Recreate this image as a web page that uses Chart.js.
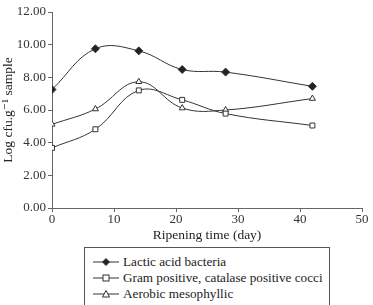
<!DOCTYPE html>
<html>
<head>
<meta charset="utf-8">
<script src="https://cdn.jsdelivr.net/npm/chart.js@4.4.0/dist/chart.umd.min.js"></script>
<style>
  body { margin: 0; background: #fff; font-family: 'Times New Roman', 'Liberation Serif', 'DejaVu Serif', serif; }
  #wrap { position: relative; width: 373px; height: 305px; overflow: hidden; }
  #chartBox { position: absolute; left: 0; top: 0; width: 373px; height: 244px; }
  #legend { position: absolute; left: 84px; top: 247px; width: 246px; height: 70px; border: 1px solid #555; box-sizing: border-box; padding-top: 6px; }
  .item { height: 16px; line-height: 16px; font-size: 13.2px; color: #222; white-space: nowrap; }
  .item svg { vertical-align: middle; margin: 0 4px 2px 8px; }
</style>
</head>
<body>
<div id="wrap">
  <div id="chartBox"><canvas id="myChart"></canvas></div>
  <div id="legend"></div>
</div>
<script>
'use strict';
// data
let days = [0, 7, 14, 21, 28, 42];
let lacticAcid = [7.25, 9.75, 9.62, 8.48, 8.32, 7.45];
let gramPositive = [3.68, 4.82, 7.2, 6.62, 5.78, 5.05];
let aerobicMeso = [5.12, 6.06, 7.73, 6.12, 6.0, 6.7];
let seriesNames = ['Lactic acid bacteria', 'Gram positive, catalase positive cocci', 'Aerobic mesophyllic'];
let yTicks = [0, 2, 4, 6, 8, 10, 12];
let xTicks = [0, 10, 20, 30, 40, 50];

let lineColor = '#333';
let serif = "'Times New Roman', 'Liberation Serif', 'DejaVu Serif', serif";

function toPoints(values) {
  let pts = [];
  for (let i = 0; i < days.length; i++) {
    pts.push({ x: days[i], y: values[i] });
  }
  return pts;
}

function makeSet(label, values, style, fill) {
  return {
    label: label,
    data: toPoints(values),
    borderColor: lineColor,
    borderWidth: 1,
    tension: 0.4,
    cubicInterpolationMode: 'default',
    pointStyle: style,
    pointRadius: style === 'rectRot' ? 4 : 3.5,
    pointBackgroundColor: fill,
    pointBorderColor: lineColor,
    pointBorderWidth: 1
  };
}

let chartObject = {
  type: 'line',
  data: {
    datasets: [
      makeSet(seriesNames[0], lacticAcid, 'rectRot', '#222'),
      makeSet(seriesNames[1], gramPositive, 'rect', '#fff'),
      makeSet(seriesNames[2], aerobicMeso, 'triangle', '#fff')
    ]
  },
  options: {
    responsive: true,
    maintainAspectRatio: false,
    animation: false,
    layout: { padding: { top: 12, right: 11, left: 0, bottom: 0 } },
    plugins: { legend: { display: false }, tooltip: { enabled: false } },
    scales: {
      x: {
        type: 'linear',
        min: 0,
        max: 50,
        afterBuildTicks: function (axis) { axis.ticks = xTicks.map(v => ({ value: v })); },
        afterFit: function (axis) { axis.height = 36; },
        border: { color: '#666', width: 1 },
        grid: { drawOnChartArea: false, drawTicks: true, tickLength: 4, color: '#666' },
        ticks: { color: '#333', padding: 0, maxRotation: 0, font: { family: serif, size: 13 } },
        title: { display: true, text: 'Ripening time (day)', color: '#222', padding: 0, font: { family: serif, size: 13.5 } }
      },
      y: {
        min: 0,
        max: 12,
        afterBuildTicks: function (axis) { axis.ticks = yTicks.map(v => ({ value: v })); },
        afterFit: function (axis) { axis.width = 52; },
        border: { color: '#666', width: 1 },
        grid: { drawOnChartArea: false, drawTicks: true, tickLength: 4, color: '#666' },
        ticks: { color: '#333', padding: 2, font: { family: serif, size: 13 }, callback: v => v.toFixed(2) },
        title: { display: true, text: 'Log cfu.g\u207B\u00B9 sample', color: '#222', padding: 0, font: { family: serif, size: 13.5 } }
      }
    }
  }
};

let ctx = document.getElementById('myChart').getContext('2d');
let myChart = new Chart(ctx, chartObject);

// legend with line + marker icons
let markers = [
  '<polygon points="13,1.5 16.5,5 13,8.5 9.5,5" fill="#222" stroke="#333"/>',
  '<rect x="10" y="2" width="6" height="6" fill="#fff" stroke="#333"/>',
  '<polygon points="13,1.5 16.5,8 9.5,8" fill="#fff" stroke="#333"/>'
];
let legendBox = document.getElementById('legend');
for (let i = 0; i < seriesNames.length; i++) {
  let row = document.createElement('div');
  row.className = 'item';
  row.innerHTML = '<svg width="26" height="10"><line x1="0" y1="5" x2="26" y2="5" stroke="#333" stroke-width="1"/>' +
    markers[i] + '</svg>' + seriesNames[i];
  legendBox.appendChild(row);
}
</script>
</body>
</html>
